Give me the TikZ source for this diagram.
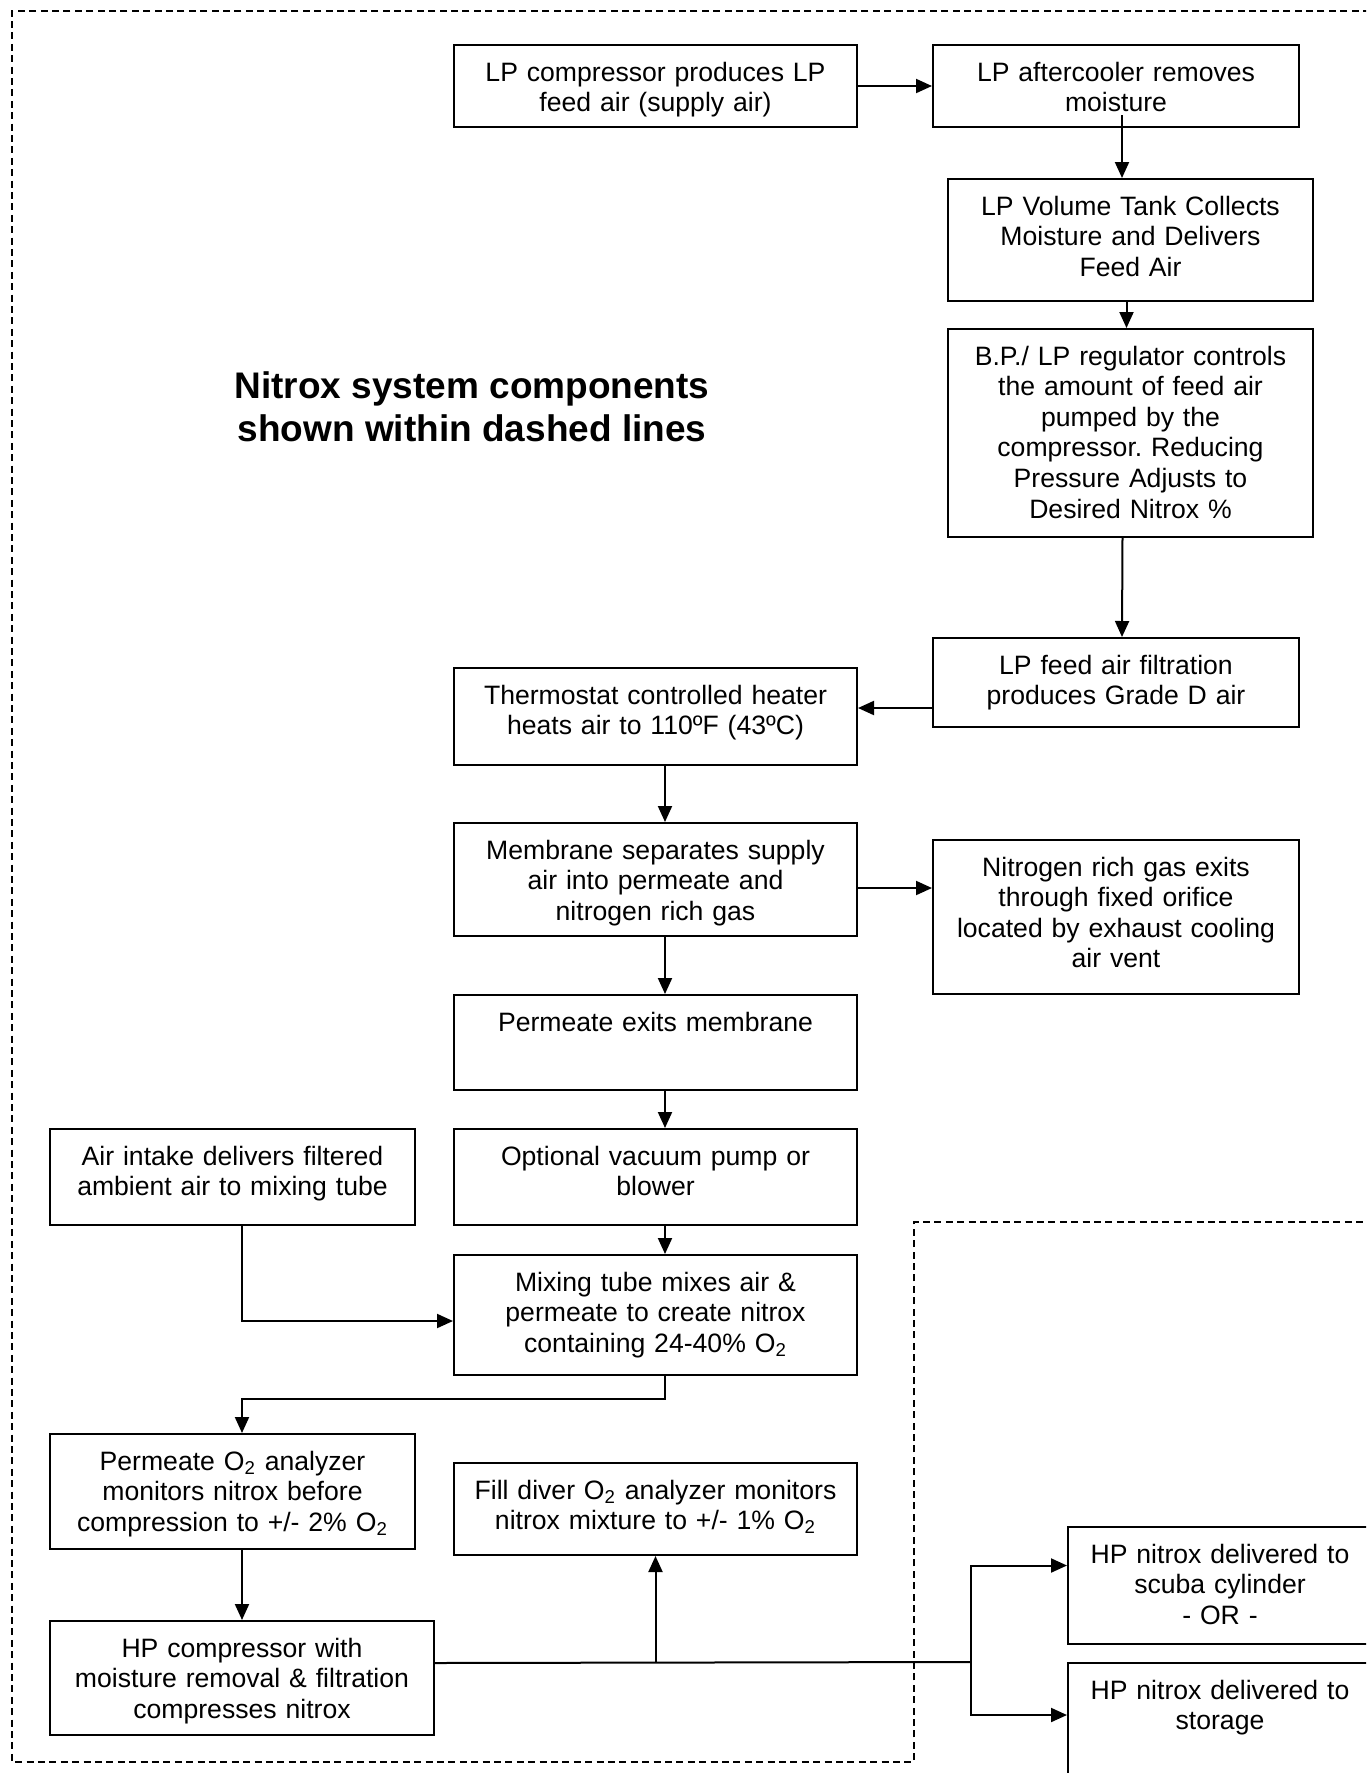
\documentclass[tikz,border=0pt]{standalone}
\usepackage{fontspec}
\setmainfont{Liberation Sans}
\usetikzlibrary{arrows.meta}
\frenchspacing
\tikzset{
  stepbox/.style={draw, line width=1pt, anchor=north west, align=center,
    inner xsep=3pt, inner ysep=0pt, text height=18pt,
    font=\fontsize{13.3}{15.3}\selectfont},
  widebox/.style={stepbox, text width=195.5pt},
  slimbox/.style={stepbox, text width=177pt},
  endbox/.style={stepbox, text width=146pt},
  heading/.style={align=center, font=\fontsize{18.5}{21.5}\selectfont\bfseries},
  flow/.style={-{Triangle[length=8pt,width=7pt]}, line width=1pt},
  pipe/.style={line width=1pt},
  dashline/.style={line width=0.9pt, dash pattern=on 3.5pt off 2.2pt}
}
\begin{document}
\begin{tikzpicture}[x=0.5pt,y=-0.5pt]
\useasboundingbox (0,0) rectangle (1366,1773);
\clip (0,0) rectangle (1366,1773);
% system boundary
\draw[dashline] (1370,11) -- (12,11) -- (12,1762) -- (914,1762) -- (914,1222) -- (1370,1222);
\node[heading] (caption) at (472,407) {Nitrox system components\\shown within dashed lines};
% boxes
\node[widebox, text depth=23pt] (lpcomp) at (453,44) {LP compressor produces LP\\feed air (supply air)};
\node[slimbox, text depth=23pt] (cooler) at (932,44) {LP aftercooler removes\\moisture};
\node[slimbox, text width=176.5pt, text depth=43pt] (tank) at (947,178) {LP Volume Tank Collects\\Moisture and Delivers\\Feed Air};
\node[slimbox, text width=176.5pt, text depth=86pt] (regulator) at (947,328) {B.P./ LP regulator controls\\the amount of feed air\\pumped by the\\compressor. Reducing\\Pressure Adjusts to\\Desired Nitrox \%};
\node[slimbox, text depth=26.5pt] (filter) at (932,637) {LP feed air filtration\\produces Grade D air};
\node[widebox, text depth=30.5pt] (heater) at (453,667) {Thermostat controlled heater\\heats air to 110ºF (43ºC)};
\node[widebox, text depth=38.5pt] (membrane) at (453,822) {Membrane separates supply\\air into permeate and\\nitrogen rich gas};
\node[slimbox, text depth=59pt] (exhaust) at (932,839) {Nitrogen rich gas exits\\through fixed orifice\\located by exhaust cooling\\air vent};
\node[widebox, text depth=29.5pt] (permeate) at (453,994) {Permeate exits membrane};
\node[slimbox, text width=176.5pt, text depth=30pt] (intake) at (49,1128) {Air intake delivers filtered\\ambient air to mixing tube};
\node[widebox, text depth=30pt] (vacuum) at (453,1128) {Optional vacuum pump or\\blower};
\node[widebox, text depth=42pt] (mixing) at (453,1254) {Mixing tube mixes air \&\\permeate to create nitrox\\containing 24-40\% O\textsubscript{2}};
\node[slimbox, text width=176.5pt, text depth=39.5pt] (analyzer) at (49,1433) {Permeate O\textsubscript{2} analyzer\\monitors nitrox before\\compression to +/- 2\% O\textsubscript{2}};
\node[widebox, text depth=28pt] (filldiver) at (453,1462) {Fill diver O\textsubscript{2} analyzer monitors\\nitrox mixture to +/- 1\% O\textsubscript{2}};
\node[stepbox, text width=186pt, text depth=39pt] (hpcomp) at (49,1620) {HP compressor with\\moisture removal \& filtration\\compresses nitrox};
\node[endbox, text depth=40.5pt] (scuba) at (1067,1526) {HP nitrox delivered to\\scuba cylinder\\{}- OR -};
\node[endbox, text depth=47pt] (storage) at (1067,1662) {HP nitrox delivered to\\storage};
% connectors
\draw[flow] (lpcomp.east) -- (cooler.west);
\draw[flow] ([xshift=3pt,yshift=6.5pt]cooler.south) -- ([xshift=-4.25pt]tank.north);
\draw[flow] ([xshift=-2pt]tank.south) -- ([xshift=-2pt]regulator.north);
\draw[flow] ([xshift=-4pt]regulator.south) -- ([xshift=3pt]filter.north);
\draw[flow] ([yshift=-12.75pt]filter.west) -- ([yshift=4.25pt]heater.east);
\draw[flow] ([yshift=-4.25pt]membrane.east) -- ([yshift=14.5pt]exhaust.west);
\foreach \a/\b in {heater/membrane,membrane/permeate,permeate/vacuum,vacuum/mixing}
\draw[flow] ([xshift=4.75pt]\a.south) -- ([xshift=4.75pt]\b.north);
\draw[flow] ([xshift=4.75pt]intake.south) |- ([yshift=-3pt]mixing.west);
\draw[flow] ([xshift=4.75pt]mixing.south) -- ++(0,23) -| ([xshift=4.75pt]analyzer.north);
\draw[flow] ([xshift=4.75pt]analyzer.south) -- (hpcomp.north);
\coordinate (split) at (971,1662);
\draw[pipe] ([yshift=7.5pt]hpcomp.east) -- (split);
\draw[flow] (split -| filldiver.south) -- (filldiver.south);
\draw[flow] (split) |- ([yshift=10pt]scuba.west);
\draw[flow] (split) |- ([yshift=6.5pt]storage.west);
\end{tikzpicture}
\end{document}
